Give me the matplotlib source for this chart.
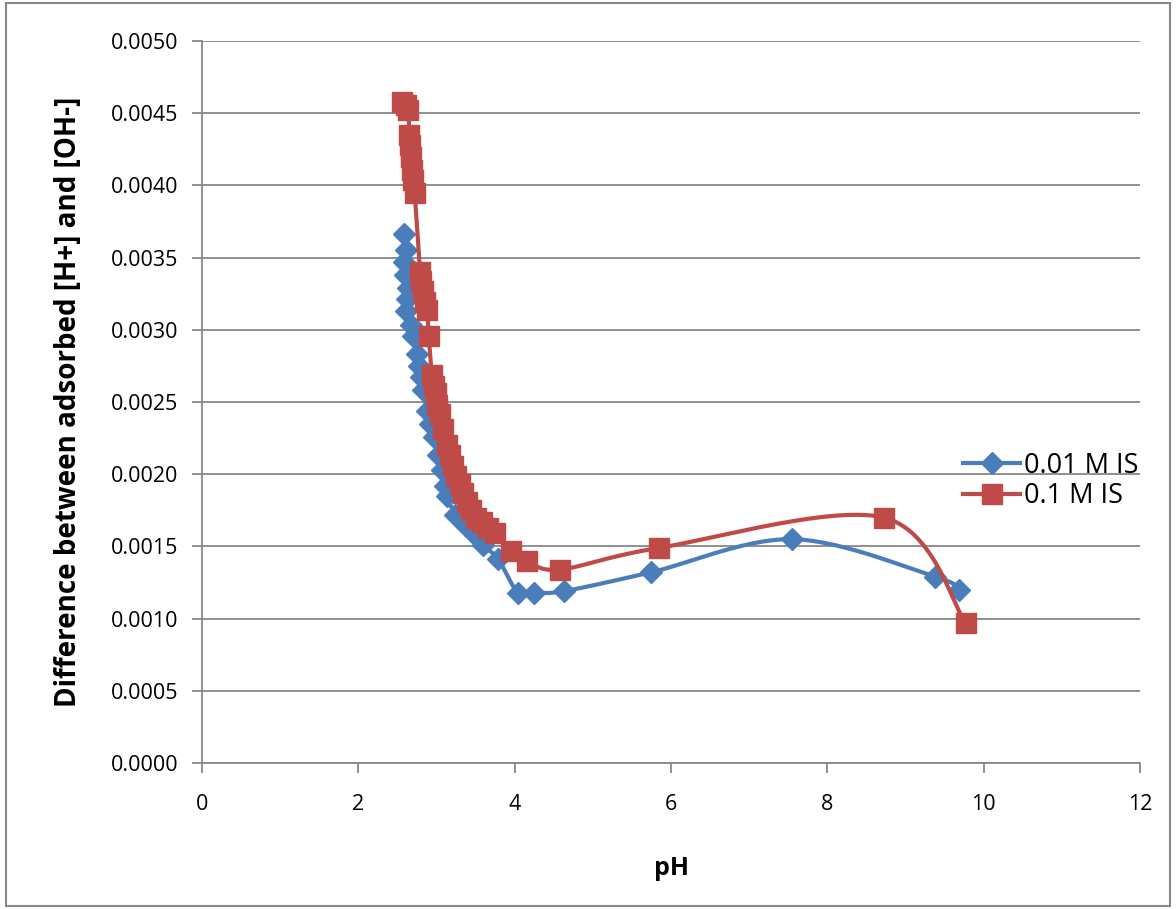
import numpy as np
import matplotlib
matplotlib.use("Agg")
import matplotlib.pyplot as plt
from matplotlib.patches import Rectangle

# data
ph_low = [2.58, 2.61, 2.58, 2.60, 2.64, 2.62, 2.61, 2.67, 2.70, 2.75, 2.78, 2.80, 2.83,
          2.88, 2.92, 2.97, 3.02, 3.07, 3.11, 3.13, 3.24, 3.36, 3.49, 3.59, 3.79,
          4.04, 4.25, 4.63, 5.74, 7.55, 9.38, 9.68]
val_low = [0.00366, 0.00355, 0.00347, 0.00338, 0.00329, 0.00321, 0.00313, 0.00303,
           0.00296, 0.00283, 0.00275, 0.00267, 0.00258, 0.00244, 0.00235, 0.00226,
           0.00213, 0.00203, 0.00192, 0.00185, 0.00172, 0.00165, 0.00158, 0.00151,
           0.00141, 0.00118, 0.00118, 0.00119, 0.00132, 0.00155, 0.00129, 0.00120]

ph_high = [2.56, 2.61, 2.64, 2.65, 2.66, 2.67, 2.69, 2.70, 2.72, 2.79, 2.80, 2.83,
           2.85, 2.88, 2.90, 2.94, 2.97, 2.99, 3.01, 3.04, 3.08, 3.13, 3.17, 3.21,
           3.25, 3.30, 3.34, 3.39, 3.44, 3.51, 3.58, 3.66, 3.75, 3.95, 4.16, 4.58,
           5.85, 8.72, 9.77]
val_high = [0.00458, 0.00456, 0.00452, 0.00435, 0.00428, 0.00420, 0.00411, 0.00404,
            0.00395, 0.00340, 0.00334, 0.00327, 0.00319, 0.00314, 0.00296, 0.00269,
            0.00261, 0.00256, 0.00248, 0.00242, 0.00231, 0.00220, 0.00213, 0.00206,
            0.00199, 0.00193, 0.00187, 0.00181, 0.00175, 0.00170, 0.00167, 0.00163,
            0.00159, 0.00147, 0.00140, 0.00134, 0.00149, 0.00170, 0.00097]

series_labels = ["0.01 M IS", "0.1 M IS"]
x_ticks = [0, 2, 4, 6, 8, 10, 12]
y_ticks = [0.0000, 0.0005, 0.0010, 0.0015, 0.0020, 0.0025, 0.0030, 0.0035, 0.0040, 0.0045, 0.0050]

BLUE = "#4A7EBB"
RED = "#BE4B48"
GRID = "#878787"


def smooth(xs, ys, n=30):
    """Catmull-Rom style Bezier smoothing through the given points (as a spreadsheet smoothed line)."""
    x = np.asarray(xs, float)
    y = np.asarray(ys, float)
    px, py = [], []
    m = len(x)
    for i in range(m - 1):
        x0, y0 = (x[i - 1], y[i - 1]) if i > 0 else (x[i], y[i])
        x1, y1 = x[i], y[i]
        x2, y2 = x[i + 1], y[i + 1]
        x3, y3 = (x[i + 2], y[i + 2]) if i + 2 < m else (x2, y2)
        c1x, c1y = x1 + (x2 - x0) / 6, y1 + (y2 - y0) / 6
        c2x, c2y = x2 - (x3 - x1) / 6, y2 - (y3 - y1) / 6
        t = np.linspace(0, 1, n)
        bx = (1 - t) ** 3 * x1 + 3 * (1 - t) ** 2 * t * c1x + 3 * (1 - t) * t ** 2 * c2x + t ** 3 * x2
        by = (1 - t) ** 3 * y1 + 3 * (1 - t) ** 2 * t * c1y + 3 * (1 - t) * t ** 2 * c2y + t ** 3 * y2
        px.extend(bx)
        py.extend(by)
    return np.array(px), np.array(py)


plt.rcParams['font.family'] = ['Open Sans', 'DejaVu Sans']

fig = plt.figure(figsize=(11.76, 9.09), dpi=100)
fig.patches.append(Rectangle((0.005, 0.003), 0.99, 0.994, transform=fig.transFigure,
                             fill=False, edgecolor="#888888", linewidth=1.5))
ax = fig.add_axes([0.1718, 0.1606, 0.7976, 0.7943])

ax.set_xlim(0, 12)
ax.set_ylim(0, 0.005)
ax.set_xticks(x_ticks)
ax.set_yticks(y_ticks)
ax.set_xticklabels([str(t) for t in x_ticks], fontsize=15.5)
ax.set_yticklabels([f"{t:.4f}" for t in y_ticks], fontsize=15.5)
ax.yaxis.grid(True, color=GRID, linewidth=1.3)
ax.set_axisbelow(True)
for s in ["top", "right"]:
    ax.spines[s].set_visible(False)
for s in ["left", "bottom"]:
    ax.spines[s].set_color(GRID)
    ax.spines[s].set_linewidth(1.3)
ax.tick_params(axis="both", direction="out", length=7, color=GRID, width=1.3)
ax.tick_params(axis="y", pad=10)
ax.tick_params(axis="x", pad=15)

LW = 3.0
sx, sy = smooth(ph_low, val_low)
ax.plot(sx, sy, color=BLUE, linewidth=LW, zorder=2)
ax.plot(ph_low, val_low, linestyle="none", marker="D", markersize=11.5, color=BLUE, zorder=3)

sx, sy = smooth(ph_high, val_high)
ax.plot(sx, sy, color=RED, linewidth=LW, zorder=4)
ax.plot(ph_high, val_high, linestyle="none", marker="s", markersize=14, color=RED, zorder=5)

ax.set_xlabel("pH", fontsize=18, fontweight="bold", labelpad=30)
ax.set_ylabel("Difference between adsorbed [H+] and [OH-]", fontsize=20, fontweight="bold", labelpad=20)

h1 = ax.plot([], [], color=BLUE, linewidth=LW, marker="D", markersize=11.5)[0]
h2 = ax.plot([], [], color=RED, linewidth=LW, marker="s", markersize=14)[0]
leg = fig.legend([h1, h2], series_labels, loc="center left", bbox_to_anchor=(0.819, 0.471),
                 frameon=False, fontsize=19.5, handlelength=2.1, handletextpad=0.15,
                 labelspacing=0.1, borderpad=0.0, borderaxespad=0.0)

fig.savefig("out.png", dpi=100)
